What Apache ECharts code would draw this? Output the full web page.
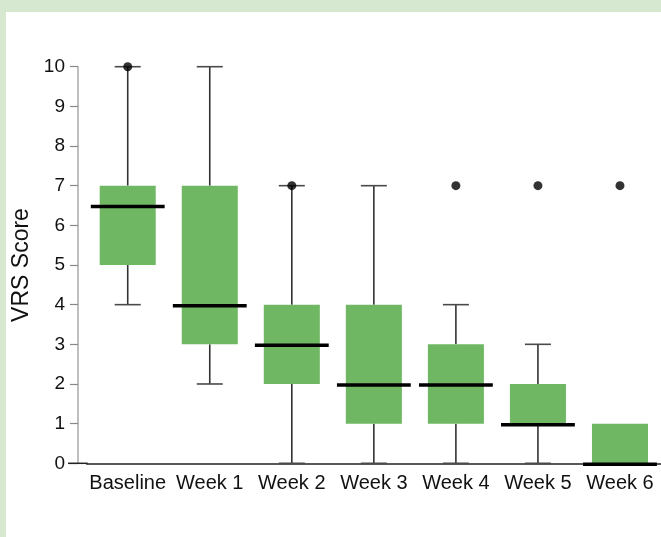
<!DOCTYPE html>
<html>
<head>
<meta charset="utf-8">
<script src="https://cdn.jsdelivr.net/npm/echarts@6/dist/echarts.min.js"></script>
<style>
  html, body { margin: 0; padding: 0; background: #d6e8d0; width: 661px; height: 537px; overflow: hidden; }
  #main { position: absolute; left: 6px; top: 12px; width: 655px; height: 525px; background: #ffffff; }
</style>
</head>
<body>
<div id="main"></div>
<script>
const categories = ['Baseline', 'Week 1', 'Week 2', 'Week 3', 'Week 4', 'Week 5', 'Week 6'];
const whiskerLow  = [4, 2, 0, 0, 0, 0, 0];
const quartile1   = [5, 3, 2, 1, 1, 1, 0];
const medians     = [6.5, 4, 3, 2, 2, 1, 0];
const quartile3   = [7, 7, 4, 4, 3, 2, 1];
const whiskerHigh = [10, 10, 7, 7, 4, 3, 1];
const outlierCategories = [0, 2, 4, 5, 6];
const outlierValues     = [10, 7, 7, 7, 7];
const yTicks = [0, 10, 1];

const boxData = categories.map((c, i) => [i, whiskerLow[i], quartile1[i], medians[i], quartile3[i], whiskerHigh[i]]);
const outlierData = outlierCategories.map((c, k) => [c, outlierValues[k]]);

const chart = echarts.init(document.getElementById('main'));
const FONT = '"Liberation Sans", Arial, Helvetica, sans-serif';

function renderBox(params, api) {
  const i = api.value(0);
  const band = api.size([1, 0])[0];
  const cx = api.coord([i, 0])[0];
  const yLo = api.coord([i, api.value(1)])[1];
  const yQ1 = api.coord([i, api.value(2)])[1];
  const yMed = api.coord([i, api.value(3)])[1];
  const yQ3 = api.coord([i, api.value(4)])[1];
  const yHi = api.coord([i, api.value(5)])[1];
  const boxW = band * 0.683, medW = band * 0.9, capW = band * 0.317;
  const wStyle = { stroke: '#333333', lineWidth: 1.6 };
  const capStyle = { stroke: '#4a4a4a', lineWidth: 1.6 };
  const children = [];
  if (yLo - yQ1 > 0.5) {
    children.push({ type: 'line', shape: { x1: cx, y1: yQ1, x2: cx, y2: yLo }, style: wStyle });
    children.push({ type: 'line', shape: { x1: cx - capW / 2, y1: yLo, x2: cx + capW / 2, y2: yLo }, style: capStyle });
  }
  if (yQ3 - yHi > 0.5) {
    children.push({ type: 'line', shape: { x1: cx, y1: yHi, x2: cx, y2: yQ3 }, style: wStyle });
    children.push({ type: 'line', shape: { x1: cx - capW / 2, y1: yHi, x2: cx + capW / 2, y2: yHi }, style: capStyle });
  }
  children.push({ type: 'rect', shape: { x: cx - boxW / 2, y: yQ3, width: boxW, height: yQ1 - yQ3 }, style: { fill: '#6fb763' } });
  children.push({ type: 'line', shape: { x1: cx - medW / 2, y1: yMed + 1, x2: cx + medW / 2, y2: yMed + 1 }, style: { stroke: '#000000', lineWidth: 3.5 } });
  return { type: 'group', children };
}

const option = {
  animation: false,
  backgroundColor: '#ffffff',
  grid: { left: 80.7, right: 0, top: 54.7, bottom: 73.7, containLabel: false, outerBoundsMode: 'none' },
  xAxis: {
    type: 'category',
    data: categories,
    boundaryGap: true,
    axisLine: { show: true, lineStyle: { color: '#222222', width: 1.5 } },
    axisTick: { show: false },
    axisLabel: { color: '#111111', fontSize: 20, fontFamily: FONT, margin: 10, interval: 0 }
  },
  yAxis: {
    type: 'value',
    min: yTicks[0], max: yTicks[1], interval: yTicks[2],
    offset: 8.7,
    name: 'VRS Score',
    nameLocation: 'middle',
    nameGap: 37,
    nameRotate: 90,
    nameTextStyle: { color: '#111111', fontSize: 23, fontFamily: FONT },
    axisLine: { show: true, lineStyle: { color: '#aaaaaa', width: 1.5 } },
    axisTick: { show: true, length: 8, lineStyle: { color: '#888888', width: 1.2 } },
    axisLabel: { color: '#111111', fontSize: 19, fontFamily: FONT, margin: 13 },
    splitLine: { show: false }
  },
  series: [
    { type: 'custom', renderItem: renderBox, data: boxData, encode: { x: 0, y: [1, 2, 3, 4, 5] }, z: 2, clip: false },
    { type: 'scatter', data: outlierData, symbol: 'circle', symbolSize: 9, itemStyle: { color: '#000000' }, z: 5 }
  ]
};
chart.setOption(option);

const y0 = chart.convertToPixel({ yAxisIndex: 0 }, 0);
const gridLeft = chart.convertToPixel({ xAxisIndex: 0 }, 0) - chart.getModel().getComponent('xAxis', 0).axis.getBandWidth() / 2;
chart.setOption({
  graphic: [{ type: 'line', shape: { x1: 62, y1: y0, x2: gridLeft + 1, y2: y0 }, style: { stroke: '#222222', lineWidth: 1.5 }, z: 10 }]
});
</script>
</body>
</html>
